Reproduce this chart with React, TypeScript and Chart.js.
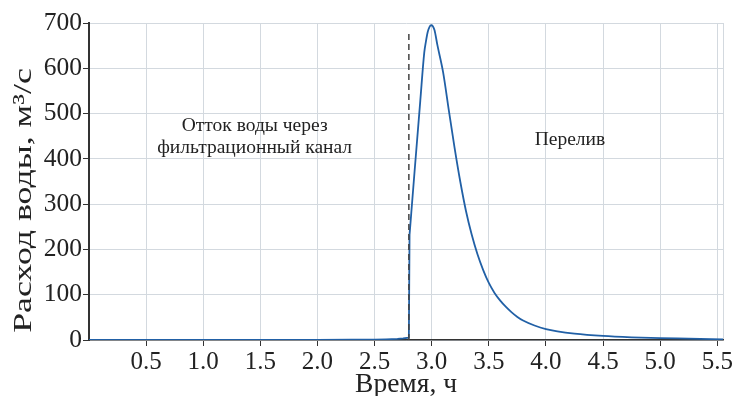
import React, { useEffect, useRef } from "react";
import { Chart, registerables } from "chart.js";

Chart.register(...registerables);

// Flow before the overflow starts (time in hours, discharge in m³/s), incl. the sudden jump
const baseTime = [0, 0.5, 1.0, 1.5, 2.0, 2.3, 2.5, 2.6, 2.7, 2.75, 2.8, 2.806];
const baseFlow = [0, 0, 0, 0, 0.2, 0.5, 1, 1.5, 2.5, 3.5, 5, 232];

// Overflow hydrograph
const peakTime = [2.806, 2.85, 2.9, 2.935, 2.95, 2.965, 2.98, 2.995, 3.01, 3.025, 3.05, 3.1, 3.15, 3.2, 3.25, 3.3, 3.35, 3.4, 3.45, 3.5, 3.55, 3.6, 3.65, 3.7, 3.75, 3.8, 3.9, 4.0, 4.1, 4.25, 4.5, 4.75, 5.0, 5.25, 5.55];
const peakFlow = [232, 372, 528, 635, 660, 680, 691, 695, 693, 684, 651, 591, 507, 425, 350, 285, 233, 190, 155, 126, 104, 87, 73, 61, 51, 43, 32, 24, 19, 14, 9, 6, 4, 3, 1.5];

// Boundary between regimes (dashed marker)
const boundaryTime = [2.8, 2.8];
const boundaryFlow = [0, 678];

const xTicks = [0, 0.5, 1.0, 1.5, 2.0, 2.5, 3.0, 3.5, 4.0, 4.5, 5.0, 5.5, 5.55];
const xLabelled = [0.5, 1.0, 1.5, 2.0, 2.5, 3.0, 3.5, 4.0, 4.5, 5.0, 5.5];

const annotations = [
  { text: "Отток воды через", x: 1.45, y: 461 },
  { text: "фильтрационный канал", x: 1.45, y: 413 },
  { text: "Перелив", x: 4.21, y: 430 },
];

const yTitle = "Расход воды, м³/с";

const SERIF = "'Liberation Serif', 'DejaVu Serif', serif";
const LINE = "#2160a6";

const textPlugin = {
  id: "textNotes",
  afterDatasetsDraw(chart: any) {
    const { ctx, scales, chartArea } = chart;
    ctx.save();
    ctx.font = `19.5px ${SERIF}`;
    ctx.fillStyle = "#222";
    ctx.textAlign = "center";
    ctx.textBaseline = "alphabetic";
    for (const a of annotations) {
      ctx.fillText(a.text, scales.x.getPixelForValue(a.x), scales.y.getPixelForValue(a.y));
    }
    ctx.restore();

    // stretched vertical axis title, as in the source figure
    ctx.save();
    ctx.font = `26px ${SERIF}`;
    ctx.fillStyle = "#222";
    ctx.textAlign = "center";
    ctx.textBaseline = "alphabetic";
    const w = ctx.measureText(yTitle).width;
    const target = (chartArea.bottom - chartArea.top) * 0.835;
    ctx.translate(31, chartArea.top + (chartArea.bottom - chartArea.top) * 0.56);
    ctx.rotate(-Math.PI / 2);
    ctx.scale(target / w, 1);
    ctx.fillText(yTitle, 0, 0);
    ctx.restore();
  },
};

export default function App() {
  const ref = useRef<HTMLCanvasElement>(null);
  useEffect(() => {
    const canvas = ref.current!;
    const chart = new Chart(canvas, {
      type: "line",
      data: {
        datasets: [
          {
            label: "boundary",
            data: boundaryTime.map((t, i) => ({ x: t, y: boundaryFlow[i] })),
            borderColor: "#444",
            borderWidth: 1.5,
            borderDash: [6, 4],
            pointRadius: 0,
            order: 0,
          },
          {
            label: "base",
            data: baseTime.map((t, i) => ({ x: t, y: baseFlow[i] })),
            borderColor: LINE,
            borderWidth: 1.8,
            pointRadius: 0,
            tension: 0,
            order: 1,
          },
          {
            label: "flow",
            data: peakTime.map((t, i) => ({ x: t, y: peakFlow[i] })),
            borderColor: LINE,
            borderWidth: 1.8,
            pointRadius: 0,
            cubicInterpolationMode: "monotone",
            order: 2,
          },
        ],
      },
      options: {
        animation: false,
        responsive: true,
        maintainAspectRatio: false,
        layout: { padding: { top: 23, right: 11, left: 0, bottom: 0 } },
        plugins: { legend: { display: false }, tooltip: { enabled: false } },
        scales: {
          x: {
            type: "linear",
            min: 0,
            max: 5.55,
            afterBuildTicks: (s: any) => {
              s.ticks = xTicks.map((v) => ({ value: v }));
            },
            afterFit: (s: any) => {
              s.height = 56;
            },
            ticks: {
              autoSkip: false,
              maxRotation: 0,
              padding: 1,
              color: "#222",
              font: { family: SERIF, size: 25 },
              callback: (v: any) => (xLabelled.includes(Number(v)) ? Number(v).toFixed(1) : ""),
            },
            grid: {
              color: "#d3d9df",
              lineWidth: 1,
              tickLength: 6,
              tickColor: (c: any) => (c.tick && xLabelled.includes(c.tick.value) ? "#333" : "rgba(0,0,0,0)"),
            },
            border: { color: "#333", width: 1.5 },
            title: {
              display: true,
              text: "Время, ч",
              color: "#222",
              font: { family: SERIF, size: 27.5, lineHeight: 0.8 },
              padding: 0,
            },
          },
          y: {
            type: "linear",
            min: 0,
            max: 700,
            afterFit: (s: any) => {
              s.width = 89;
            },
            ticks: {
              stepSize: 100,
              padding: 1,
              color: "#222",
              font: { family: SERIF, size: 25.5 },
            },
            grid: { color: "#d3d9df", lineWidth: 1, tickLength: 6, tickColor: "#333" },
            border: { color: "#333", width: 2 },
            title: { display: false },
          },
        },
      },
      plugins: [textPlugin],
    } as any);
    return () => chart.destroy();
  }, []);
  return (
    <div style={{ position: "absolute", left: 0, top: 0, width: 734, height: 396, background: "#fff" }}>
      <canvas ref={ref} />
    </div>
  );
}
